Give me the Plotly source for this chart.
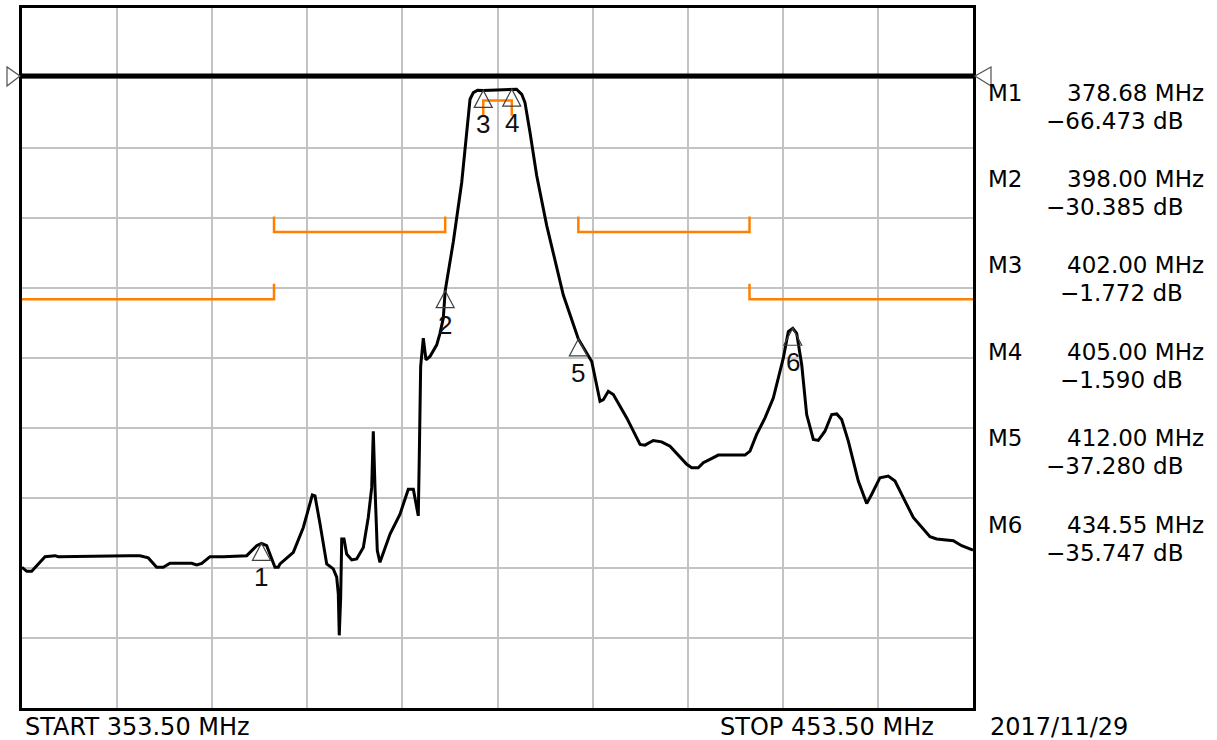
import plotly.graph_objects as go

# ---------------- data ----------------
START_MHZ = 353.5
STOP_MHZ = 453.5
Y_TOP_DB = 10
Y_BOTTOM_DB = -90
REF_LEVEL_DB = 0

FREQ_MHZ = [
    353.5, 354.0, 354.52, 355.05, 355.92, 356.97, 357.32, 364.68, 365.91, 366.78,
    367.66, 368.36, 369.06, 371.34, 371.87, 372.4, 373.27, 374.67, 377.13, 378.18,
    378.68, 379.23, 379.58, 380.1, 380.45, 380.63, 382.03, 383.08, 384.03, 384.31,
    384.84, 385.54, 386.23, 386.59, 386.76, 386.86, 387.01, 387.12, 387.36, 387.64,
    388.17, 388.69, 389.39, 389.91, 390.27, 390.44, 390.62, 390.86, 391.14, 392.2,
    393.25, 394.12, 394.65, 395.17, 395.28, 395.42, 395.7, 395.98, 396.4, 397.11,
    397.45, 397.8, 398.0, 398.85, 399.74, 400.26, 400.61, 400.96, 401.4, 402.0,
    405.0, 405.5, 406.05, 406.39, 406.92, 407.62, 408.67, 409.55, 410.42, 412.0,
    413.41, 414.28, 414.63, 415.15, 415.68, 417.09, 418.49, 419.01, 419.88, 420.76,
    421.64, 423.4, 423.92, 424.61, 425.14, 425.84, 426.72, 429.52, 430.05, 430.75,
    431.63, 432.5, 433.03, 433.55, 434.08, 434.55, 434.96, 435.49, 436.01, 436.71,
    437.23, 437.93, 438.64, 439.17, 439.69, 440.39, 441.44, 442.32, 442.85, 443.72,
    444.59, 445.3, 446.17, 447.22, 448.98, 449.68, 451.43, 452.31, 453.5,
]
TRACE_DB = [
    -69.9, -70.47, -70.47, -69.66, -68.38, -68.24, -68.38, -68.24, -68.24, -68.56,
    -69.9, -69.9, -69.33, -69.33, -69.56, -69.33, -68.38, -68.38, -68.24, -66.81,
    -66.473, -66.81, -68.0, -69.9, -69.9, -69.42, -67.77, -64.21, -59.56, -59.7,
    -63.73, -69.42, -70.13, -71.32, -73.68, -79.62, -74.17, -65.86, -65.86, -68.0,
    -68.85, -68.71, -67.06, -62.79, -58.52, -50.46, -58.52, -67.52, -69.19, -65.15,
    -62.3, -58.75, -58.75, -62.55, -53.77, -41.21, -37.18, -40.26, -39.79, -38.12,
    -36.47, -34.34, -30.385, -23.43, -14.89, -7.78, -3.04, -2.09, -1.75, -1.772,
    -1.59, -1.6, -2.33, -3.51, -7.78, -13.94, -21.05, -26.27, -31.0, -37.28,
    -40.5, -46.19, -45.95, -44.76, -45.23, -48.56, -52.35, -52.45, -51.78, -51.98,
    -52.59, -55.19, -55.68, -55.68, -54.96, -54.48, -53.87, -53.87, -53.3, -50.92,
    -48.56, -45.72, -42.87, -40.03, -36.23, -35.747, -36.47, -40.97, -48.08, -51.64,
    -51.78, -50.46, -48.08, -47.99, -48.79, -51.88, -57.57, -60.8, -59.46, -57.1,
    -56.86, -57.57, -59.94, -62.79, -65.53, -65.86, -66.1, -66.81, -67.43,
]

MARKER_NAMES = ["M1", "M2", "M3", "M4", "M5", "M6"]
MARKER_LABELS = ["1", "2", "3", "4", "5", "6"]
MARKER_FREQ = [378.68, 398.00, 402.00, 405.00, 412.00, 434.55]
MARKER_DB = [-66.473, -30.385, -1.772, -1.590, -37.280, -35.747]

# limit-line segments: start MHz, stop MHz, level dB, tick direction (+1 up, -1 down)
LIMIT_START = [353.5, 380.0, 402.0, 412.0, 430.0]
LIMIT_STOP = [380.0, 398.0, 405.0, 430.0, 453.5]
LIMIT_DB = [-31.6, -22.0, -3.2, -22.0, -31.6]
LIMIT_TICK = [1, 1, -1, 1, 1]

START_TEXT = "START\u00a0353.50 MHz"
STOP_TEXT = "STOP\u00a0453.50 MHz"
DATE_TEXT = "2017/11/29"

# ---------------- layout geometry ----------------
W, H = 1217, 740
L, R, T, B = 22, 973, 5, 708
PW, PH = R - L, B - T


def px_x(px):
    return (px - L) / PW


def px_y(py):
    return (B - py) / PH


ORANGE = "#ff8000"
GRID = "#c3c3c3"
TICK_DB = 2.2

fig = go.Figure()

# limit lines
lx, ly = [], []
for s, e, lvl, d in zip(LIMIT_START, LIMIT_STOP, LIMIT_DB, LIMIT_TICK):
    tip = lvl + d * TICK_DB
    pts_x, pts_y = [], []
    if s > START_MHZ:
        pts_x.append(s); pts_y.append(tip)
    pts_x += [s, e]; pts_y += [lvl, lvl]
    if e < STOP_MHZ:
        pts_x.append(e); pts_y.append(tip)
    lx += pts_x + [None]; ly += pts_y + [None]
fig.add_trace(go.Scatter(x=lx, y=ly, mode="lines",
                         line=dict(color=ORANGE, width=2.5),
                         hoverinfo="skip", showlegend=False))

# measured trace
fig.add_trace(go.Scatter(x=FREQ_MHZ, y=TRACE_DB, mode="lines",
                         line=dict(color="black", width=3),
                         showlegend=False))

shapes = []
# reference level line
shapes.append(dict(type="line", xref="x", yref="y", x0=START_MHZ, x1=STOP_MHZ,
                   ysizemode="pixel", yanchor=REF_LEVEL_DB, y0=2, y1=2,
                   line=dict(color="black", width=5), layer="above"))
# reference level triangles outside the frame (paper refs so they are not clipped)
ref_paper_y = (REF_LEVEL_DB - Y_BOTTOM_DB) / (Y_TOP_DB - Y_BOTTOM_DB)
shapes.append(dict(type="path", xref="paper", yref="paper", xsizemode="pixel", ysizemode="pixel",
                   xanchor=0, yanchor=ref_paper_y,
                   path="M-2,2 L-15,11 L-15,-8 Z",
                   line=dict(color="#505050", width=1.2), fillcolor="rgba(0,0,0,0)"))
shapes.append(dict(type="path", xref="paper", yref="paper", xsizemode="pixel", ysizemode="pixel",
                   xanchor=1, yanchor=ref_paper_y,
                   path="M2,2 L18,11 L18,-8 Z",
                   line=dict(color="#505050", width=1.2), fillcolor="rgba(0,0,0,0)"))
# marker triangles (tip at the marker point)
for f, v in zip(MARKER_FREQ, MARKER_DB):
    shapes.append(dict(type="path", xref="x", yref="y", xsizemode="pixel", ysizemode="pixel",
                       xanchor=f, yanchor=v,
                       path="M0,0 L-9,-17 L9,-17 Z",
                       line=dict(color="#404040", width=1.2), fillcolor="rgba(0,0,0,0)"))

annotations = []
for lab, f, v in zip(MARKER_LABELS, MARKER_FREQ, MARKER_DB):
    annotations.append(dict(x=f, y=v, xref="x", yref="y", text=lab, showarrow=False,
                            yshift=-34, xanchor="center", yanchor="middle",
                            font=dict(family="Liberation Sans", size=26, color="#101010")))

# marker readout panel
PANEL_FONT = dict(family="DejaVu Sans", size=23, color="black")
for i, (name, f, v) in enumerate(zip(MARKER_NAMES, MARKER_FREQ, MARKER_DB)):
    yc = 90 + i * 86.8
    annotations.append(dict(x=px_x(986), y=px_y(yc), xref="paper", yref="paper",
                            text=name, showarrow=False, xanchor="left", yanchor="middle",
                            font=PANEL_FONT))
    annotations.append(dict(x=px_x(1206), y=px_y(yc), xref="paper", yref="paper",
                            text=f"{f:.2f} MHz", showarrow=False, xanchor="right",
                            yanchor="middle", font=PANEL_FONT))
    sign = "\u2212" if v < 0 else ""
    annotations.append(dict(x=px_x(1185), y=px_y(yc + 28), xref="paper", yref="paper",
                            text=f"{sign}{abs(v):.3f} dB", showarrow=False, xanchor="right",
                            yanchor="middle", font=PANEL_FONT))

BOTTOM_FONT = dict(family="DejaVu Sans", size=24, color="black")
annotations.append(dict(x=px_x(23), y=px_y(727), xref="paper", yref="paper", text=START_TEXT,
                        showarrow=False, xanchor="left", yanchor="middle", font=BOTTOM_FONT))
annotations.append(dict(x=px_x(718), y=px_y(727), xref="paper", yref="paper", text=STOP_TEXT,
                        showarrow=False, xanchor="left", yanchor="middle", font=BOTTOM_FONT))
annotations.append(dict(x=px_x(988), y=px_y(727), xref="paper", yref="paper", text=DATE_TEXT,
                        showarrow=False, xanchor="left", yanchor="middle", font=BOTTOM_FONT))

fig.update_layout(
    width=W, height=H,
    margin=dict(l=L, r=W - R, t=T, b=H - B, pad=0),
    paper_bgcolor="white", plot_bgcolor="white",
    showlegend=False,
    shapes=shapes, annotations=annotations,
    xaxis=dict(range=[START_MHZ, STOP_MHZ], tick0=START_MHZ, dtick=10,
               showticklabels=False, ticks="", showgrid=True, gridcolor=GRID, gridwidth=1.5,
               zeroline=False, showline=True, linecolor="black", linewidth=3, mirror=True,
               fixedrange=True),
    yaxis=dict(range=[Y_BOTTOM_DB, Y_TOP_DB], tick0=Y_BOTTOM_DB, dtick=10,
               showticklabels=False, ticks="", showgrid=True, gridcolor=GRID, gridwidth=1.5,
               zeroline=False, showline=True, linecolor="black", linewidth=3, mirror=True,
               fixedrange=True),
)

fig.write_html("out.html",
               config={"displayModeBar": False},
               post_script="document.body.style.margin='0';document.body.style.overflow='hidden';")
